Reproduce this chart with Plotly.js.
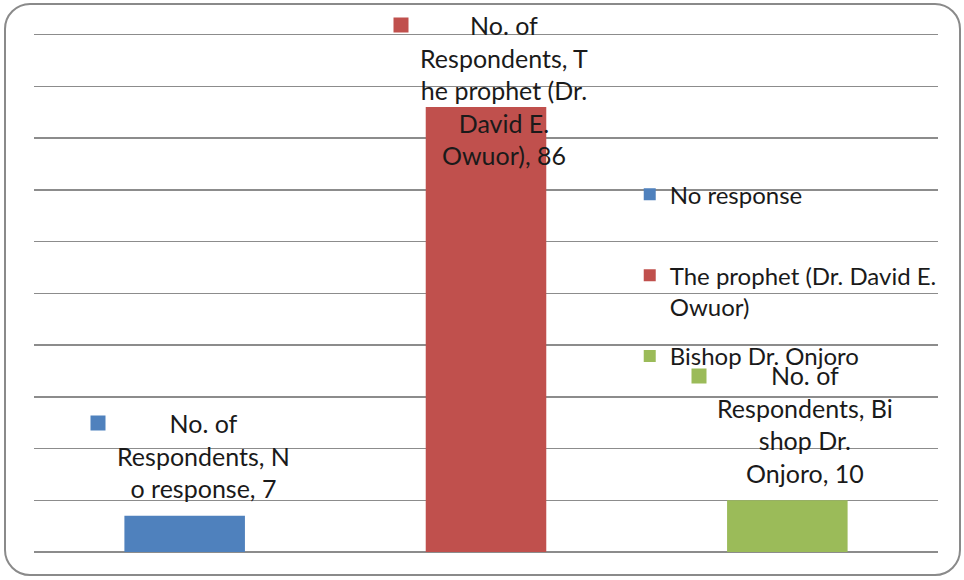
<!DOCTYPE html>
<html>
<head>
<meta charset="utf-8">
<script src="https://cdn.plot.ly/plotly-3.0.1.min.js"></script>
<style>
  html, body { margin: 0; padding: 0; background: #fff; }
  #wrap { position: relative; width: 964px; height: 580px; }
  #chart { position: absolute; left: 0; top: 0; width: 964px; height: 580px; }
  #frame { position: absolute; left: 4px; top: 3px; width: 953px; height: 569px;
           border: 2px solid #8a8a8a; border-radius: 26px; pointer-events: none; }
</style>
</head>
<body>
<div id="wrap">
  <div id="chart"></div>
  <div id="frame"></div>
</div>
<script>
// ---- data ----
const seriesName = "No. of Respondents";
const categories = ["No response", "The prophet (Dr. David E. Owuor)", "Bishop Dr. Onjoro"];
const values = [7, 86, 10];
const colors = ["#4F81BD", "#C0504D", "#9BBB59"];
const legendLabels = ["No response", "The prophet (Dr. David E.<br>Owuor)", "Bishop Dr. Onjoro"];
const labelLines = [
  ["No. of", "Respondents, N", "o response, 7"],
  ["No. of", "Respondents, T", "he prophet (Dr.", "David E.", "Owuor), 86"],
  ["No. of", "Respondents, Bi", "shop Dr.", "Onjoro, 10"]
];

// ---- styling ----
const FONT = "Lato, 'Open Sans', sans-serif";
const LABEL_FS = 25;
const LEGEND_FS = 24;
const textXShift = [19, 18, 18];
const keyXShift = [-87, -85, -88];
const textAnchor = ["bottom", "top", "bottom"];
const textYShift = [11, 99, 10];
const keyYShift = [93, 82, 124];
const legendNames = ["legend", "legend2", "legend3"];
const legendY = [0.732, 0.576, 0.420];

const traces = categories.map((c, i) => ({
  type: "bar",
  x: [c],
  y: [values[i]],
  name: legendLabels[i],
  legend: legendNames[i],
  marker: { color: colors[i] },
  width: 0.4,
  hoverinfo: "x+y"
}));

const annotations = [];
categories.forEach((c, i) => {
  annotations.push({
    x: c, y: values[i], xref: "x", yref: "y",
    text: labelLines[i].join("<br>"),
    showarrow: false,
    xanchor: "center", yanchor: textAnchor[i],
    xshift: textXShift[i], yshift: textYShift[i],
    align: "center",
    font: { family: FONT, size: LABEL_FS, color: "#1a1a1a" }
  });
  annotations.push({
    x: c, y: values[i], xref: "x", yref: "y",
    text: " ", showarrow: false,
    width: 14, height: 14, borderpad: 0,
    bgcolor: colors[i],
    xanchor: "center", yanchor: "middle",
    xshift: keyXShift[i], yshift: keyYShift[i]
  });
});

function legendBox(y) {
  return {
    x: 0.659, y: y, xanchor: "left", yanchor: "top",
    font: { family: FONT, size: LEGEND_FS, color: "#1a1a1a" },
    itemwidth: 30,
    valign: "top",
    bgcolor: "rgba(0,0,0,0)"
  };
}

const layout = {
  width: 964, height: 580,
  margin: { l: 34, r: 26, t: 33, b: 28 },
  paper_bgcolor: "rgba(0,0,0,0)",
  plot_bgcolor: "rgba(0,0,0,0)",
  barmode: "overlay",
  showlegend: true,
  legend: legendBox(legendY[0]),
  legend2: legendBox(legendY[1]),
  legend3: legendBox(legendY[2]),
  xaxis: {
    type: "category",
    showticklabels: false,
    showgrid: false,
    zeroline: false,
    showline: false,
    ticks: ""
  },
  yaxis: {
    range: [0, 100.3],
    dtick: 10,
    showticklabels: false,
    showgrid: true,
    gridcolor: "#8c8c8c",
    gridwidth: 1.5,
    zeroline: true,
    zerolinecolor: "#8c8c8c",
    zerolinewidth: 1.5,
    showline: false,
    ticks: ""
  },
  annotations: annotations
};

Plotly.newPlot("chart", traces, layout, { displayModeBar: false, staticPlot: true });
</script>
</body>
</html>
